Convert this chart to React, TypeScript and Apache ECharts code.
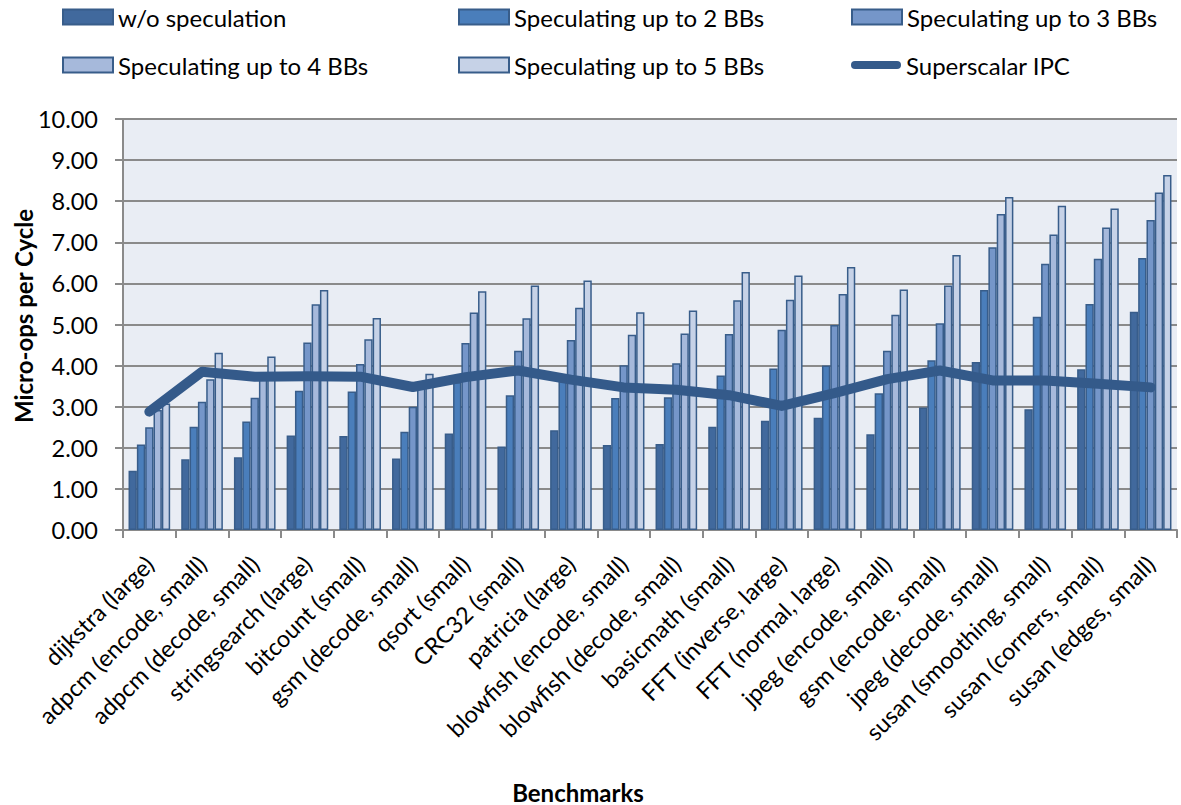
import React, { useEffect, useRef } from "react";
import * as echarts from "echarts";

const FONT = "Lato, 'Noto Sans', sans-serif";

const benchmarks = [
  "dijkstra (large)",
  "adpcm (encode, small)",
  "adpcm (decode, small)",
  "stringsearch (large)",
  "bitcount (small)",
  "gsm (decode, small)",
  "qsort (small)",
  "CRC32 (small)",
  "patricia (large)",
  "blowfish (encode, small)",
  "blowfish (decode, small)",
  "basicmath (small)",
  "FFT (inverse, large)",
  "FFT (normal, large)",
  "jpeg (encode, small)",
  "gsm (encode, small)",
  "jpeg (decode, small)",
  "susan (smoothing, small)",
  "susan (corners, small)",
  "susan (edges, small)",
];

const noSpeculation = [1.44, 1.72, 1.77, 2.3, 2.29, 1.74, 2.35, 2.03, 2.43, 2.07, 2.09, 2.51, 2.66, 2.73, 2.33, 2.98, 4.09, 2.94, 3.91, 5.31];
const spec2 = [2.08, 2.51, 2.64, 3.39, 3.37, 2.39, 3.6, 3.28, 3.63, 3.21, 3.23, 3.76, 3.93, 4.0, 3.33, 4.13, 5.84, 5.19, 5.5, 6.62];
const spec3 = [2.5, 3.12, 3.22, 4.56, 4.04, 3.0, 4.55, 4.36, 4.62, 4.01, 4.06, 4.77, 4.87, 4.99, 4.36, 5.03, 6.88, 6.48, 6.6, 7.54];
const spec4 = [2.92, 3.67, 3.7, 5.49, 4.64, 3.45, 5.29, 5.15, 5.41, 4.75, 4.78, 5.59, 5.6, 5.74, 5.24, 5.95, 7.69, 7.19, 7.36, 8.21];
const spec5 = [3.08, 4.31, 4.22, 5.84, 5.16, 3.8, 5.81, 5.95, 6.07, 5.3, 5.34, 6.28, 6.19, 6.4, 5.85, 6.69, 8.1, 7.89, 7.82, 8.64];
const superscalarIpc = [2.88, 3.85, 3.73, 3.74, 3.73, 3.48, 3.72, 3.88, 3.66, 3.47, 3.41, 3.28, 3.02, 3.33, 3.67, 3.88, 3.64, 3.64, 3.56, 3.47];

const yTicks = [0, 1, 2, 3, 4, 5, 6, 7, 8, 9, 10];

const barSeries = [
  { name: "w/o speculation", data: noSpeculation, color: "#41699D" },
  { name: "Speculating up to 2 BBs", data: spec2, color: "#4A7EBB" },
  { name: "Speculating up to 3 BBs", data: spec3, color: "#7596C9" },
  { name: "Speculating up to 4 BBs", data: spec4, color: "#A6B9DB" },
  { name: "Speculating up to 5 BBs", data: spec5, color: "#C6D2E7" },
];
const lineName = "Superscalar IPC";

const legendSlots = [
  { name: barSeries[0].name, left: 62, top: 5 },
  { name: barSeries[1].name, left: 458, top: 5 },
  { name: barSeries[2].name, left: 851, top: 5 },
  { name: barSeries[3].name, left: 62, top: 53 },
  { name: barSeries[4].name, left: 458, top: 53 },
  { name: lineName, left: 851, top: 53 },
];

const LINE_ICON = "path://M4,0 H46 A4,4 0 0 1 46,8 H4 A4,4 0 0 1 4,0 Z";

export default function App() {
  const ref = useRef<HTMLDivElement>(null);

  useEffect(() => {
    if (!ref.current) return;
    const chart = echarts.init(ref.current, undefined, { renderer: "svg" });
    const axisGray = "#8A8A8A";

    chart.setOption({
      animation: false,
      backgroundColor: "#ffffff",
      textStyle: { fontFamily: FONT },
      grid: {
        left: 123,
        right: 4,
        top: 119,
        bottom: 275,
        show: true,
        backgroundColor: "#E9EDF4",
        borderWidth: 0,
      },
      legend: legendSlots.map((s) => ({
        data: [{ name: s.name, icon: s.name === lineName ? LINE_ICON : "rect" }],
        left: s.left,
        top: s.top,
        padding: 0,
        itemWidth: 50,
        itemHeight: 15,
        selectedMode: false,
        textStyle: { fontFamily: FONT, fontSize: 24, color: "#000" },
      })),
      xAxis: {
        type: "category",
        data: benchmarks,
        axisLine: { lineStyle: { color: axisGray, width: 2 } },
        axisTick: { show: true, length: 8, interval: 0, lineStyle: { color: axisGray, width: 2 } },
        axisLabel: {
          interval: 0,
          rotate: 45,
          margin: 30,
          fontSize: 23.5,
          color: "#000",
          fontFamily: FONT,
        },
        splitLine: { show: false },
      },
      yAxis: {
        type: "value",
        min: yTicks[0],
        max: yTicks[yTicks.length - 1],
        interval: 1,
        axisLine: { show: true, lineStyle: { color: axisGray, width: 2 } },
        axisTick: { show: true, length: 8, lineStyle: { color: axisGray, width: 2 } },
        splitLine: { lineStyle: { color: axisGray, width: 2 } },
        axisLabel: {
          formatter: (v: number) => v.toFixed(2),
          fontSize: 23.5,
          margin: 25,
          color: "#000",
          fontFamily: FONT,
        },
      },
      graphic: [
        {
          type: "text",
          x: 23,
          y: 316,
          rotation: Math.PI / 2,
          style: {
            text: "Micro-ops per Cycle",
            fontFamily: FONT,
            fontSize: 24,
            fontWeight: "bold",
            fill: "#000",
            align: "center",
            verticalAlign: "middle",
          },
        },
        {
          type: "text",
          x: 578,
          y: 792,
          style: {
            text: "Benchmarks",
            fontFamily: FONT,
            fontSize: 24,
            fontWeight: "bold",
            fill: "#000",
            align: "center",
            verticalAlign: "middle",
          },
        },
      ],
      series: [
        ...barSeries.map((b) => ({
          name: b.name,
          type: "bar",
          data: b.data,
          barGap: "0%",
          barCategoryGap: "21%",
          itemStyle: { color: b.color, borderColor: "#385D8A", borderWidth: 1.5 },
        })),
        {
          name: lineName,
          type: "line",
          data: superscalarIpc,
          symbol: "none",
          z: 5,
          itemStyle: { color: "#345A8A" },
          lineStyle: { color: "#345A8A", width: 10, cap: "round", join: "round" },
        },
      ],
    });

    return () => chart.dispose();
  }, []);

  return (
    <div
      ref={ref}
      style={{ position: "fixed", left: 0, top: 0, width: 1181, height: 805, background: "#fff" }}
    />
  );
}
